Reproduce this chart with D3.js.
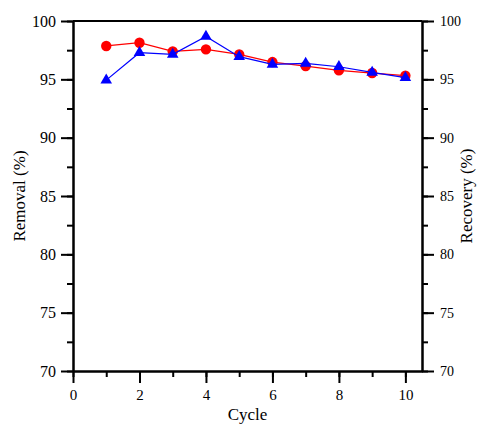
<!DOCTYPE html>
<html>
<head>
<meta charset="utf-8">
<script src="https://cdn.jsdelivr.net/npm/d3@7"></script>
<style>
body { margin: 0; background: #fff; }
svg text { font-family: "Liberation Serif", "Times New Roman", serif !important; }
</style>
</head>
<body>
<div id="chart"></div>
<script>
var cycles = [1, 2, 3, 4, 5, 6, 7, 8, 9, 10];
var removal = [97.86, 98.14, 97.4, 97.57, 97.14, 96.48, 96.14, 95.77, 95.54, 95.31];
var recovery = [94.93, 97.28, 97.14, 98.67, 96.94, 96.28, 96.37, 96.08, 95.6, 95.14];
var xTicks = [0, 2, 4, 6, 8, 10];
var yTicks = [70, 75, 80, 85, 90, 95, 100];

var svgWidth = 482;
var svgHeight = 424;
var margin = {top: 21, right: 60, bottom: 53, left: 73};
var chartWidth = 422 - margin.left;
var chartHeight = 371 - margin.top;

var svg = d3.select("#chart").append("svg")
    .attr("width", svgWidth)
    .attr("height", svgHeight);

var chartGroup = svg.append("g")
    .attr("transform", `translate(${margin.left},${margin.top})`);

var x = d3.scaleLinear().domain([0, 10.5]).range([0, chartWidth]);
var y = d3.scaleLinear().domain([70, 100]).range([chartHeight, 0]);

function styleAxis(size) {
    return function(g) {
        g.attr("font-family", null);
        g.select(".domain").attr("stroke", "#000").attr("stroke-width", 2);
        g.selectAll(".tick line").attr("stroke", "#000").attr("stroke-width", 2);
        g.selectAll(".tick text").attr("font-size", size).attr("fill", "#000");
    };
}

// minor ticks
var xMinor = d3.range(0, 11, 1);
var yMinor = d3.range(70, 100.1, 2.5);

chartGroup.append("g")
    .attr("transform", `translate(0,${chartHeight})`)
    .call(d3.axisBottom(x).tickValues(xMinor).tickSize(6).tickFormat("").tickSizeOuter(0))
    .call(styleAxis(15));
chartGroup.append("g")
    .attr("transform", `translate(0,${chartHeight})`)
    .call(d3.axisBottom(x).tickValues(xTicks).tickSize(12).tickPadding(6).tickSizeOuter(0))
    .call(styleAxis(15));

chartGroup.append("g")
    .call(d3.axisLeft(y).tickValues(yMinor).tickSize(6).tickFormat("").tickSizeOuter(0))
    .call(styleAxis(16));
chartGroup.append("g")
    .call(d3.axisLeft(y).tickValues(yTicks).tickSize(12).tickPadding(5).tickSizeOuter(0))
    .call(styleAxis(16));

chartGroup.append("g")
    .attr("transform", `translate(${chartWidth},0)`)
    .call(d3.axisRight(y).tickValues(yMinor).tickSize(6).tickFormat("").tickSizeOuter(0))
    .call(styleAxis(14));
chartGroup.append("g")
    .attr("transform", `translate(${chartWidth},0)`)
    .call(d3.axisRight(y).tickValues(yTicks).tickSize(12).tickPadding(6).tickSizeOuter(0))
    .call(styleAxis(14));

// top border
chartGroup.append("line")
    .attr("x1", 0).attr("x2", chartWidth)
    .attr("y1", 0).attr("y2", 0)
    .attr("stroke", "#000").attr("stroke-width", 2);

var line = d3.line()
    .x(function(d, i) { return x(cycles[i]); })
    .y(function(d) { return y(d); });

chartGroup.append("path")
    .datum(removal)
    .attr("fill", "none")
    .attr("stroke", "#ff0000")
    .attr("stroke-width", 1.2)
    .attr("d", line);

chartGroup.selectAll(".dot")
    .data(removal)
    .enter().append("circle")
    .attr("cx", function(d, i) { return x(cycles[i]); })
    .attr("cy", function(d) { return y(d); })
    .attr("r", 5.2)
    .attr("fill", "#ff0000");

chartGroup.append("path")
    .datum(recovery)
    .attr("fill", "none")
    .attr("stroke", "#0000ff")
    .attr("stroke-width", 1.2)
    .attr("d", line);

chartGroup.selectAll(".tri")
    .data(recovery)
    .enter().append("path")
    .attr("transform", function(d, i) { return "translate(" + x(cycles[i]) + "," + y(d) + ")"; })
    .attr("d", d3.symbol().type(d3.symbolTriangle).size(58))
    .attr("fill", "#0000ff");

// axis titles
svg.append("text")
    .attr("x", margin.left + chartWidth / 2)
    .attr("y", 420)
    .attr("text-anchor", "middle")
    .attr("font-size", 17)
    .text("Cycle");

svg.append("text")
    .attr("transform", `translate(25,${margin.top + chartHeight / 2}) rotate(-90)`)
    .attr("text-anchor", "middle")
    .attr("font-size", 17)
    .text("Removal (%)");

svg.append("text")
    .attr("transform", `translate(472,${margin.top + chartHeight / 2}) rotate(-90)`)
    .attr("text-anchor", "middle")
    .attr("font-size", 17)
    .text("Recovery (%)");
</script>
</body>
</html>
